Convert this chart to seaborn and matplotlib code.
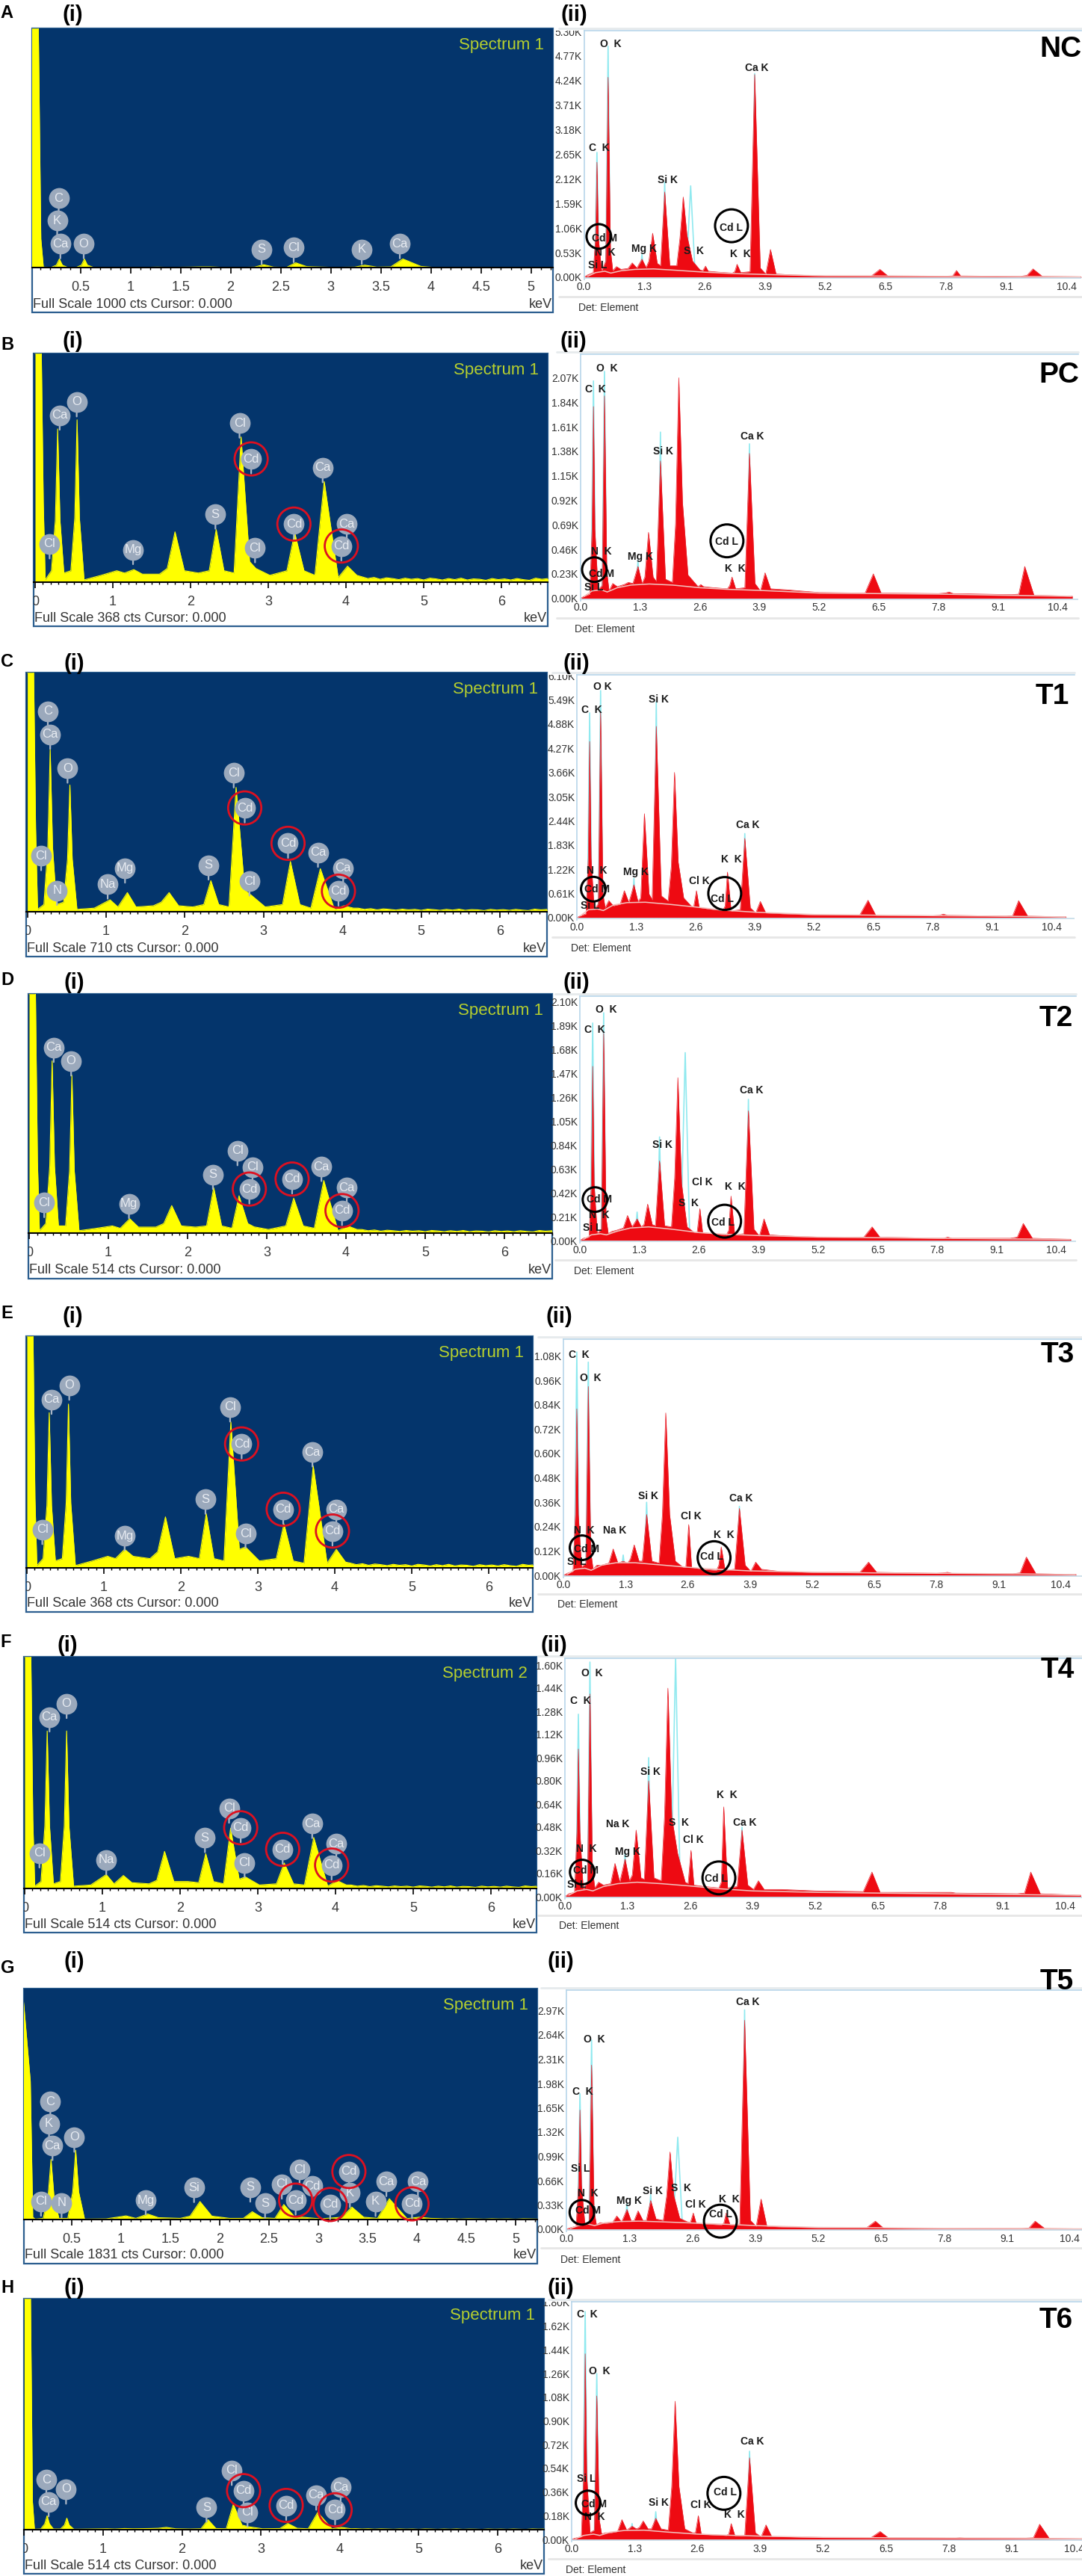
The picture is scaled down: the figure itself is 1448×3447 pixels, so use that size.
import numpy as np
import pandas as pd
import seaborn as sns
import matplotlib.pyplot as plt
from matplotlib.lines import Line2D
from matplotlib.patches import Rectangle
from matplotlib.ticker import MultipleLocator
from matplotlib.transforms import Bbox

sns.set_theme(style="white")
plt.rcParams['font.family'] = ['Liberation Sans', 'DejaVu Sans']
NARROW = ['Liberation Sans Narrow', 'Liberation Sans', 'DejaVu Sans']

W, H = 1448, 3447

# ---------------- left spectra: counts as % of full scale
LEFT_KEV = [0, .08, .105, .13, .21, .26, .29, .32, .37, .46, .51, .54, .57, .63, .85, 1.05, 1.15, 1.27, 1.38, 1.60,
            1.70, 1.80, 1.92, 2.10, 2.24, 2.33, 2.43, 2.56, 2.65, 2.76, 2.84, 3.02, 3.24, 3.34, 3.46, 3.60, 3.72,
            3.90, 4.02, 4.14]
L_A = [100, 100, 12, .2, .1, 1, 3.6, 1, .1, .1, 1, 3.6, 1, .1, .1, .1, .1, .2, .1, .2, .3, .3, .1, .1, .2, 1.2, .2,
       .1, 2, .4, .3, .1, .2, 1, .2, .3, 3.6, .5, .1, .1]
L_B = [100, 100, 35, 1, 5, 27, 67, 27, 4, 5, 28, 71, 28, 1, 3, 5, 4, 5.5, 3.5, 3.5, 6, 22, 5, 4, 5, 23, 5, 4, 63.5,
       9, 6, 3, 5, 21.6, 5, 3, 44, 2, 7, 3]
L_C = [100, 100, 35, 1, 3, 27, 68, 27, 3, 4, 22, 53, 22, 1, 1.5, 5, 2, 8, 2, 2.5, 4, 8, 2.5, 2, 3, 13, 3, 2, 52, 9,
       7, 2, 3, 21, 3, 1.5, 18, 1, 2.5, 1.5]
L_D = [100, 100, 30, 1, 4, 28, 72, 28, 3, 3, 26, 66, 26, 1, 2, 3, 2, 6, 2.5, 2.5, 4, 11.5, 3, 2.5, 3, 19, 3, 2, 15.6,
       4, 2.6, 1.5, 3, 14.6, 3, 2, 22, 1, 3, 1.5]
L_E = [100, 100, 30, 1, 4, 27, 67, 27, 3, 4, 28, 70.7, 28, 1, 3, 5, 4, 8, 5, 4, 7, 22, 4, 5, 4, 23.4, 4, 3, 63, 8, 9,
       3, 4, 19, 3, 2, 44, 2, 8, 2.5]
L_F = [100, 100, 30, 1, 3, 27, 68, 27, 2, 3, 27, 68, 27, 1, 1.5, 6, 2, 5.6, 2.5, 2, 3.5, 16, 3, 3, 2.5, 15, 3, 2, 26,
       4, 5, 1.5, 2, 11, 2, 1.5, 22, 1, 3.4, 1.5]
L_G = [100, 60, 1, .2, .5, 10, 26, 10, .5, .5, 12, 30, 12, .2, .3, 1.6, .5, 2.4, .8, .5, 1.5, 7.8, 1.5, .5, .5, 3.4,
       .8, .5, 6.5, 1.2, 1, .3, 1, 5.4, 1, .5, 9, .4, 1, .5]
L_H = [100, 100, 12, .2, .3, 2.5, 6, 2.5, .3, .3, 2, 5, 2, .2, .3, .4, .3, .5, .4, .5, .6, 1, .4, .3, .4, 4.3, .5,
       .4, 11, 2, 1.3, .4, .5, 2.7, .6, .4, 7.5, .4, 1, .4]
# tail after 4.14 keV, same jagged shape in each panel, scaled by its level
TAIL_KEV = [4.2, 4.28, 4.36, 4.44, 4.52, 4.6, 4.68, 4.76, 4.84, 4.92, 5.0, 5.08, 5.16, 5.24, 5.32, 5.4, 5.48, 5.56,
            5.64, 5.72, 5.8, 5.88, 5.96, 6.04, 6.12, 6.2, 6.28, 6.36, 6.44, 6.52, 6.6]
TAIL_SHAPE = [1.5, 1, 1.3, .8, 1.2, 1, .7, 1.1, .8, 1, .6, 1.1, .9, .6, 1, .7, 1.1, .6, .9, .8, .5, 1, .7, .9, .6,
              1, .7, .5, 1.1, .8, 1]
L_TAIL = [0, 1.6, 1, 1, 1.4, 1, .3, .3]

# ---------------- right spectra, in kilo counts
R_KEV = [0, .08, .20, .25, .28, .31, .38, .47, .52, .57, .62, .70, .80, .95, 1.04, 1.14, 1.25, 1.34, 1.40, 1.48, 1.58,
         1.65, 1.74, 1.85, 2.00, 2.07, 2.14, 2.22, 2.34, 2.50, 2.56, 2.62, 2.68, 2.90, 3.20, 3.25, 3.30, 3.38, 3.58,
         3.68, 3.80, 3.92, 4.02, 4.14, 4.50, 5.20, 6.20, 6.38, 6.55, 7.80, 7.95, 8.03, 8.12, 9.40, 9.55, 9.68, 9.88,
         10.72]
R_A = [0, .05, .10, .85, 2.48, .85, .13, .35, 4.31, .6, .14, .23, .17, .19, .31, .2, .39, .21, .35, .95, .3, .25, 1.84,
       .25, .25, .85, 1.73, .9, .35, .16, .14, .24, .13, .11, .09, .12, .28, .1, .12, 4.37, .2, .07, .60, .07, .05,
       .03, .03, .17, .03, .025, .03, .145, .03, .02, .04, .18, .02, .01]
R_B = [0, .02, .04, .65, 1.80, .65, .08, .12, 1.90, .25, .07, .14, .11, .13, .15, .14, .30, .14, .2, .62, .2, .16, 1.29,
       .18, .15, .7, 2.07, .9, .22, .14, .11, .13, .11, .10, .09, .12, .20, .09, .10, 1.36, .14, .07, .24, .09, .08,
       .055, .05, .23, .05, .045, .05, .06, .045, .035, .04, .30, .03, .02]
R_C = [0, .05, .1, 1.5, 4.44, 1.5, .2, .35, 5.19, .6, .25, .43, .3, .34, .68, .38, .83, .4, .5, 2.62, .6, .45, 4.82,
       .55, .42, 1.3, 3.66, 1.4, .5, .3, .27, .68, .26, .22, .18, .3, 1.15, .17, .2, 2.0, .25, .12, .41, .12, .1, .07,
       .07, .44, .06, .05, .06, .09, .06, .04, .05, .43, .04, .02]
R_D = [0, .02, .03, .5, 1.53, .5, .06, .1, 1.82, .2, .06, .08, .09, .11, .22, .12, .19, .12, .14, .32, .14, .13, .70,
       .13, .12, .55, 1.43, .5, .12, .07, .07, .28, .07, .06, .05, .09, .39, .05, .06, 1.14, .1, .04, .19, .05, .04,
       .03, .03, .12, .03, .02, .02, .03, .02, .02, .03, .15, .02, .01]
R_E = [0, .01, .02, .3, .82, .3, .04, .06, .93, .12, .03, .05, .05, .06, .13, .06, .07, .06, .08, .15, .07, .07, .30,
       .07, .06, .3, .80, .3, .07, .04, .04, .25, .04, .03, .025, .05, .14, .025, .03, .33, .05, .02, .065, .03, .02,
       .015, .015, .065, .015, .01, .012, .015, .01, .008, .012, .09, .008, .004]
R_F = [0, .02, .03, .45, 1.02, .45, .05, .1, 1.40, .2, .06, .1, .08, .09, .23, .1, .26, .11, .15, .46, .13, .12, .80,
       .13, .11, .55, 1.44, .55, .3, .1, .09, .32, .08, .07, .06, .1, .62, .06, .07, .46, .08, .05, .11, .05, .05, .04,
       .035, .17, .03, .03, .03, .03, .025, .02, .025, .17, .02, .01]
R_G = [0, .02, .04, .6, 1.62, .6, .08, .1, 2.23, .25, .06, .09, .08, .09, .18, .1, .27, .11, .12, .25, .12, .12, .39,
       .14, .12, .45, 1.05, .45, .15, .1, .09, .22, .08, .07, .06, .08, .22, .06, .07, 2.84, .12, .04, .41, .04, .03,
       .02, .02, .11, .015, .01, .01, .01, .01, .01, .015, .11, .01, .005]
R_H = [0, .01, .02, .5, 1.41, .5, .05, .07, 1.09, .15, .04, .05, .05, .06, .15, .07, .10, .08, .09, .14, .08, .08, .16,
       .08, .07, .4, 1.05, .4, .08, .05, .05, .18, .04, .035, .03, .04, .12, .025, .03, .62, .05, .02, .11, .02, .02,
       .015, .015, .06, .012, .01, .01, .012, .01, .01, .012, .115, .008, .004]

# cyan fit line tops: C, O, Mg, Si, S, Ca
CYAN_KEV = [.28, .52, 1.25, 1.74, 2.30, 3.68]
CYAN_A = [2.69, 4.98, .49, 2.05, 1.97, 4.39]
CYAN_B = [2.04, 2.13, .355, 1.56, .2, 1.45]
CYAN_C = [5.16, 5.72, .99, 5.44, .5, 2.12]
CYAN_D = [1.91, 2.0, .25, .91, 1.65, 1.24]
CYAN_E = [1.10, 1.05, .1, .36, .1, .34]
CYAN_F = [1.26, 1.62, .3, .96, 1.65, .48]
CYAN_G = [1.84, 2.57, .34, .47, 1.25, 2.98]
CYAN_H = [1.73, 1.26, .12, .21, .09, .67]

# background curve
BG_KEV = [.08, .25, .45, .58, .8, 1.1, 1.5, 2.0, 2.6, 3.2, 3.9, 5.2, 6.5, 7.8, 9.1, 10.7]
BG_A = [.02, .10, .13, .09, .14, .17, .18, .15, .11, .08, .06, .03, .025, .02, .02, .01]
BG_B = [.02, .07, .08, .06, .10, .125, .135, .125, .10, .085, .075, .05, .045, .04, .03, .02]
BG_C = [.05, .2, .22, .18, .32, .38, .39, .34, .27, .19, .14, .08, .065, .05, .04, .02]
BG_D = [.01, .05, .06, .05, .08, .11, .12, .1, .07, .055, .044, .03, .025, .02, .015, .01]
BG_E = [.005, .03, .035, .025, .05, .062, .062, .052, .04, .03, .022, .016, .012, .01, .008, .004]
BG_F = [.01, .04, .05, .04, .07, .09, .10, .09, .074, .055, .04, .03, .025, .02, .015, .01]
BG_G = [.01, .05, .07, .05, .09, .105, .11, .10, .085, .07, .05, .025, .02, .012, .01, .005]
BG_H = [.005, .03, .04, .03, .055, .068, .07, .055, .04, .032, .025, .015, .012, .01, .008, .004]

# ---------------- element badges on the left spectra (keV, % height, name, red ring)
BADGE_A = [(.283, 29, 'C', 0), (.268, 19.6, 'K', 0), (.30, 9.9, 'Ca', 0), (.533, 9.9, 'O', 0), (2.31, 7.5, 'S', 0),
           (2.63, 8.3, 'Cl', 0), (3.31, 7.5, 'K', 0), (3.69, 9.9, 'Ca', 0)]
BADGE_B = [(.186, 16.7, 'Cl', 0), (.316, 73, 'Ca', 0), (.535, 78.8, 'O', 0), (1.26, 14.2, 'Mg', 0), (2.32, 29.7, 'S', 0),
           (2.63, 69.5, 'Cl', 0), (2.78, 53.9, 'Cd', 1), (2.83, 15, 'Cl', 0), (3.33, 25.4, 'Cd', 1), (3.70, 50, 'Ca', 0),
           (4.01, 25.4, 'Ca', 0), (3.94, 15.8, 'Cd', 1)]
BADGE_C = [(.26, 83.9, 'C', 0), (.29, 74.2, 'Ca', 0), (.51, 60, 'O', 0), (.175, 23.4, 'Cl', 0), (.376, 8.9, 'N', 0),
           (1.02, 11.5, 'Na', 0), (1.24, 18.2, 'Mg', 0), (2.30, 19.5, 'S', 0), (2.62, 58, 'Cl', 0), (2.76, 43.4, 'Cd', 1),
           (2.82, 12.8, 'Cl', 0), (3.31, 28.6, 'Cd', 1), (3.69, 24.8, 'Ca', 0), (4.01, 18.2, 'Ca', 0), (3.95, 8.6, 'Cd', 1)]
BADGE_D = [(.31, 77.6, 'Ca', 0), (.53, 71.9, 'O', 0), (.19, 12.7, 'Cl', 0), (1.26, 12.3, 'Mg', 0), (2.32, 24.5, 'S', 0),
           (2.63, 34.4, 'Cl', 0), (2.82, 27.6, 'Cl', 0), (2.78, 18.4, 'Cd', 1), (3.32, 22.6, 'Cd', 1), (3.69, 27.8, 'Ca', 0),
           (4.01, 19, 'Ca', 0), (3.95, 9.4, 'Cd', 1)]
BADGE_E = [(.32, 72.7, 'Ca', 0), (.55, 78.8, 'O', 0), (.2, 16.5, 'Cl', 0), (1.27, 13.8, 'Mg', 0), (2.32, 29.6, 'S', 0),
           (2.64, 69.4, 'Cl', 0), (2.79, 53.5, 'Cd', 1), (2.84, 14.8, 'Cl', 0), (3.33, 25.3, 'Cd', 1), (3.71, 50, 'Ca', 0),
           (4.02, 25.3, 'Ca', 0), (3.97, 15.9, 'Cd', 1)]
BADGE_F = [(.32, 74, 'Ca', 0), (.54, 79.8, 'O', 0), (.19, 15.3, 'Cl', 0), (1.05, 12.3, 'Na', 0), (2.32, 21.9, 'S', 0),
           (2.63, 34.6, 'Cl', 0), (2.78, 26.2, 'Cd', 1), (2.83, 11, 'Cl', 0), (3.32, 16.9, 'Cd', 1), (3.70, 28, 'Ca', 0),
           (4.01, 19.2, 'Ca', 0), (3.95, 10.1, 'Cd', 1)]
BADGE_G = [(.283, 51, 'C', 0), (.27, 41.5, 'K', 0), (.305, 32, 'Ca', 0), (.526, 35.6, 'O', 0), (.188, 7.9, 'Cl', 0),
           (.397, 7.2, 'N', 0), (1.25, 8.4, 'Mg', 0), (1.74, 13.8, 'Si', 0), (2.31, 14, 'S', 0), (2.46, 7, 'S', 0),
           (2.63, 15.3, 'Cl', 0), (2.81, 21.6, 'Cl', 0), (2.94, 14.5, 'Cd', 0), (2.77, 8.4, 'Cd', 1), (3.12, 6.5, 'Cd', 1),
           (3.32, 11.6, 'K', 0), (3.31, 20.8, 'Cd', 1), (3.58, 7.8, 'K', 0), (3.69, 16.4, 'Ca', 0), (4.01, 16.4, 'Ca', 0),
           (3.95, 6.8, 'Cd', 1)]
BADGE_H = [(.28, 21.6, 'C', 0), (.53, 17.5, 'O', 0), (.31, 12, 'Ca', 0), (2.31, 9.7, 'S', 0), (2.63, 25.6, 'Cl', 0),
           (2.83, 7.6, 'Cl', 0), (2.78, 16.9, 'Cd', 1), (3.32, 10.5, 'Cd', 1), (3.70, 14.9, 'Ca', 0), (4.01, 18.3, 'Ca', 0),
           (3.94, 8.6, 'Cd', 1)]

# ---------------- peak labels on the right spectra (keV, K, text)
NOTE_A = [(.57, 5.03, 'O  K'), (3.73, 4.51, 'Ca K'), (.33, 2.78, 'C  K'), (1.80, 2.10, 'Si K'), (.44, .83, 'Cd M'),
          (.46, .53, 'N  K'), (1.29, .61, 'Mg K'), (2.36, .56, 'S  K'), (3.37, .50, 'K  K'), (.30, .25, 'Si L'),
          (3.18, 1.07, 'Cd L')]
NOTE_B = [(.57, 2.16, 'O  K'), (.33, 1.96, 'C  K'), (1.80, 1.38, 'Si K'), (3.74, 1.52, 'Ca K'), (.45, .44, 'N  K'),
          (1.31, .39, 'Mg K'), (3.19, .53, 'Cd L'), (3.37, .28, 'K  K'), (.46, .23, 'Cd M'), (.29, .105, 'Si L')]
NOTE_C = [(.57, 5.81, 'O K'), (.33, 5.24, 'C  K'), (1.80, 5.49, 'Si K'), (3.75, 2.33, 'Ca K'), (3.39, 1.47, 'K  K'),
          (.44, 1.18, 'N  K'), (1.29, 1.15, 'Mg K'), (2.68, .92, 'Cl K'), (.44, .71, 'Cd M'), (3.19, .48, 'Cd L'),
          (.29, .30, 'Si L')]
NOTE_D = [(.57, 2.03, 'O  K'), (.33, 1.85, 'C  K'), (1.81, .84, 'Si K'), (3.75, 1.32, 'Ca K'), (2.68, .51, 'Cl K'),
          (3.39, .47, 'K  K'), (.42, .36, 'Cd M'), (2.38, .33, 'S  K'), (.42, .225, 'N  K'), (3.13, .16, 'Cd L'),
          (.27, .11, 'Si L')]
NOTE_E = [(.32, 1.085, 'C  K'), (.56, .97, 'O  K'), (1.77, .39, 'Si K'), (3.72, .38, 'Ca K'), (2.67, .29, 'Cl K'),
          (1.08, .22, 'Na K'), (.43, .22, 'N  K'), (3.36, .197, 'K  K'), (.48, .13, 'Cd M'), (3.10, .093, 'Cd L'),
          (.27, .065, 'Si L')]
NOTE_F = [(.56, 1.545, 'O  K'), (.33, 1.35, 'C  K'), (1.78, .86, 'Si K'), (3.37, .70, 'K  K'), (1.09, .50, 'Na K'),
          (2.37, .51, 'S  K'), (3.74, .51, 'Ca K'), (2.67, .39, 'Cl K'), (.44, .33, 'N  K'), (1.31, .31, 'Mg K'),
          (.44, .18, 'Cd M'), (3.14, .126, 'Cd L'), (.24, .08, 'Si L')]
NOTE_G = [(3.74, 3.09, 'Ca K'), (.57, 2.58, 'O  K'), (.33, 1.87, 'C  K'), (.29, .82, 'Si L'), (.44, .49, 'N  K'),
          (1.79, .52, 'Si K'), (2.37, .56, 'S  K'), (1.30, .39, 'Mg K'), (3.36, .41, 'K  K'), (2.67, .34, 'Cl K'),
          (.44, .25, 'Cd M'), (3.18, .20, 'Cd L')]
NOTE_H = [(.33, 1.71, 'C  K'), (.58, 1.275, 'O  K'), (3.74, .745, 'Ca K'), (.30, .46, 'Si L'), (1.80, .277, 'Si K'),
          (2.67, .26, 'Cl K'), (.47, .265, 'Cd M'), (.47, .17, 'N  K'), (3.37, .19, 'K  K'), (3.18, .36, 'Cd L')]

# black rings on the right spectra: (keV, K) for the large and the small one
RING_BIG = [(3.18, 1.11), (3.19, .54), (3.24, .61), (3.16, .17), (3.15, .087), (3.20, .13), (3.18, .11), (3.15, .35)]
RING_SMALL = [(.32, .88), (.30, .27), (.36, .72), (.33, .36), (.39, .136), (.36, .17), (.32, .23), (.34, .277)]

ROW_LETTERS = ['A', 'B', 'C', 'D', 'E', 'F', 'G', 'H']
ROW_TAGS = ['NC', 'PC', 'T1', 'T2', 'T3', 'T4', 'T5', 'T6']
FULL_SCALE = [1000, 368, 710, 514, 368, 514, 1831, 514]
SPECTRUM_NO = [1, 1, 1, 1, 1, 2, 1, 1]
Y_STEP = [.53, .23, .61, .21, .12, .16, .33, .18]
Y_LAST = [5.30, 2.07, 6.10, 2.10, 1.08, 1.60, 2.97, 1.80]
L_TICK_STEP = [.5, 1, 1, 1, 1, 1, .5, 1]

left_series = [L_A, L_B, L_C, L_D, L_E, L_F, L_G, L_H]
left_badges = [BADGE_A, BADGE_B, BADGE_C, BADGE_D, BADGE_E, BADGE_F, BADGE_G, BADGE_H]
right_series = [R_A, R_B, R_C, R_D, R_E, R_F, R_G, R_H]
right_cyan = [CYAN_A, CYAN_B, CYAN_C, CYAN_D, CYAN_E, CYAN_F, CYAN_G, CYAN_H]
right_bg = [BG_A, BG_B, BG_C, BG_D, BG_E, BG_F, BG_G, BG_H]
right_notes = [NOTE_A, NOTE_B, NOTE_C, NOTE_D, NOTE_E, NOTE_F, NOTE_G, NOTE_H]

# layout in pixels: x0, x1, top, bottom of the frame, axis line, px of 0 keV, px per keV
LEFT_BOX = [(43, 740, 38, 418, 358, 40.6, 134), (45, 733, 473, 838, 779, 47, 104),
            (35, 732, 900, 1280, 1220, 36.6, 105.4), (38, 739, 1330, 1711, 1650, 39, 106),
            (35, 713, 1788, 2157, 2098, 36, 103), (32, 718, 2217, 2586, 2527, 33, 104),
            (32, 719, 2661, 3029, 2970, 30, 132), (32, 728, 3076, 3444, 3385, 32.4, 105.6)]
# outer left, outer right, px of 0 keV, px per keV, top, axis line, outer bottom, px per y step, det y, det x
RIGHT_BOX = [(748, 1447, 781.5, 62.08, 40.7, 371, 397, 32.9, 412, 774), (745, 1443, 777, 61.4, 474, 800.7, 827, 32.8, 842, 769),
             (739, 1438, 772, 61.07, 903, 1228, 1254, 32.4, 1269, 764), (743, 1440, 776, 61.3, 1333, 1660, 1686, 32, 1701, 768),
             (720, 1448, 754, 64, 1792, 2108, 2133, 32.6, 2147, 746), (720, 1448, 756, 64.4, 2219, 2538, 2563, 31, 2577, 748),
             (724, 1448, 758, 64.8, 2663, 2983, 3008, 32.5, 3024, 750), (734, 1448, 765, 64.7, 3080, 3398, 3424, 31.7, 3439, 757)]
# y of letter, (i)/(ii) labels and tag, x of letter, (i), (ii), right edge of tag
HEAD_Y = [(17, 20, 66), (462, 457, 502), (885, 888, 932), (1312, 1315, 1363), (1757, 1762, 1813), (2198, 2202, 2235),
          (2633, 2625, 2652), (3062, 3062, 3105)]
HEAD_X = [(0, 97, 768, 1447), (1, 97, 767, 1444), (1, 99, 771, 1431), (1, 99, 771, 1436), (1, 97, 748, 1438),
          (0, 90, 741, 1438), (1, 99, 750, 1437), (1, 99, 750, 1436)]

fig = plt.figure(figsize=(W / 100, H / 100), dpi=100, facecolor='white')


def px_axes(x0, x1, top, bottom):
    return fig.add_axes([x0 / W, 1 - bottom / H, (x1 - x0) / W, (bottom - top) / H])


def fig_text(x, y, s, **kw):
    fig.text(x / W, 1 - y / H, s, **kw)


def fig_line(x0, x1, y0, y1, **kw):
    fig.add_artist(Line2D([x0 / W, x1 / W], [1 - y0 / H, 1 - y1 / H], zorder=-1, **kw))


def clip_labels(labels, x0, x1, top):
    # partly cut tick labels at the panel edge, as in the screenshot
    box = Bbox([[x0, 0], [x1, H - top]])
    for lab in labels:
        lab.set_clip_box(box)
        lab.set_clip_on(True)


for i in range(8):
    # left spectrum
    x0, x1, top, bottom, base, zero, scale = LEFT_BOX[i]
    fig.add_artist(Rectangle((x0 / W, 1 - bottom / H), (x1 - x0) / W, (bottom - top) / H, transform=fig.transFigure,
                             fc='white', ec='#2d5f90', lw=1.6, zorder=-1))
    ax = px_axes(x0, x1, top, base)
    ax.set_facecolor('#04356c')
    kev = np.array(LEFT_KEV + TAIL_KEV)
    pct = np.array(left_series[i] + [v * L_TAIL[i] for v in TAIL_SHAPE])
    frame = pd.DataFrame({'kev': kev, 'pct': pct})
    sns.lineplot(data=frame, x='kev', y='pct', color='#ffff00', lw=0.8, estimator=None, sort=False, ax=ax)
    ax.fill_between(kev, 0, pct, color='#ffff00', lw=0)
    ax.set_xlim((x0 - zero) / scale, (x1 - zero) / scale)
    ax.set_ylim(0, 100)
    ax.set_xlabel('')
    ax.set_ylabel('')
    ax.set_yticks([])
    ax.xaxis.set_major_locator(MultipleLocator(L_TICK_STEP[i]))
    ax.xaxis.set_minor_locator(MultipleLocator(.1))
    ax.tick_params(axis='x', which='major', bottom=True, length=6, width=1.2, color='black', pad=7,
                   labelsize=13, labelcolor='#3a3a3a')
    ax.tick_params(axis='x', which='minor', bottom=True, length=2.5, width=1, color='black')
    if L_TICK_STEP[i] == .5:
        ax.set_xticks(np.arange(.5, 5.5, .5))
        ax.set_xticklabels(['0.5', '1', '1.5', '2', '2.5', '3', '3.5', '4', '4.5', '5'])
    else:
        ax.set_xticks(range(0, 7))
        ax.set_xticklabels(['0', '1', '2', '3', '4', '5', '6'])
    clip_labels(ax.get_xticklabels(), x0, x1, top)
    for side in ['top', 'left', 'right']:
        ax.spines[side].set_visible(False)
    ax.spines['bottom'].set_color('black')
    ax.spines['bottom'].set_linewidth(1.5)

    # element badges with a short stem, red ring for cadmium
    for bk, bp, name, ringed in left_badges[i]:
        ax.annotate('', xy=(bk, bp), xytext=(0, -14), textcoords='offset points', annotation_clip=False,
                    arrowprops=dict(arrowstyle='-', color='#aab6c6', lw=1.6, shrinkA=0, shrinkB=0), zorder=4)
        ax.scatter([bk], [bp], s=400, color='#9ba9bc', lw=0, zorder=5, clip_on=False)
        ax.text(bk, bp, name, color='#e8ecf2', fontsize=12, ha='center', va='center', zorder=6)
        if ringed:
            ax.scatter([bk], [bp], s=1020, facecolor='none', edgecolor='#dd1020', lw=2, zorder=7, clip_on=False)
    fig_text(x1 - 12, top + 12, f'Spectrum {SPECTRUM_NO[i]}', family=NARROW, fontsize=16, color='#b7d02e', ha='right',
             va='top')
    fig_text(x0 + 1, bottom - 11, f'Full Scale {FULL_SCALE[i]} cts Cursor: 0.000', fontsize=13, color='#333333',
             ha='left', va='center')
    fig_text(x1 - 1, bottom - 11, 'keV', fontsize=13, color='#333333', ha='right', va='center')

    # right spectrum
    ox0, ox1, rzero, rscale, rtop, rbase, obot, step_px, det_y, det_x = RIGHT_BOX[i]
    fig_line(ox0, ox1, rtop - 3, rtop - 3, color='#e6eaed', lw=2)
    fig_line(ox0, ox1, obot, obot, color='#e6e6e6', lw=2)
    bx = px_axes(rzero, ox1, rtop, rbase + 3)
    bx.set_facecolor('white')
    for ck, cy in zip(CYAN_KEV, right_cyan[i]):
        half = .1 if ck == 2.30 else .05
        sns.lineplot(x=[ck - half, ck, ck + half], y=[0, cy, 0], color='#8fe9ef', lw=1.2, estimator=None, sort=False,
                     ax=bx, zorder=1)
    frame = pd.DataFrame({'kev': R_KEV, 'counts': right_series[i]})
    bx.fill_between(frame.kev, 0, frame.counts, color='#ee0a12', lw=0, zorder=2)
    sns.lineplot(data=frame, x='kev', y='counts', color='#e8202a', lw=0.5, estimator=None, sort=False, ax=bx, zorder=2)
    sns.lineplot(x=BG_KEV, y=right_bg[i], color='#f2c4c0', lw=1.1, estimator=None, sort=False, ax=bx, zorder=3)

    per_px = Y_STEP[i] / step_px
    bx.set_xlim(0, (ox1 - rzero) / rscale)
    bx.set_ylim(-3 * per_px, (rbase - rtop) * per_px)
    bx.set_xlabel('')
    bx.set_ylabel('')
    bx.set_xticks(np.arange(0, 10.5, 1.3))
    bx.set_xticklabels(['0.0', '1.3', '2.6', '3.9', '5.2', '6.5', '7.8', '9.1', '10.4'])
    yt = np.arange(0, Y_LAST[i] + .001, Y_STEP[i])
    bx.set_yticks(yt)
    bx.set_yticklabels([f'{v:.2f}K' for v in yt])
    bx.tick_params(axis='both', length=0, pad=2, labelcolor='#333333')
    for lab in bx.get_xticklabels() + bx.get_yticklabels():
        lab.set_family(NARROW)
        lab.set_fontsize(10)
    clip_labels(bx.get_yticklabels(), 0, W, rtop)
    for side in ['right', 'bottom']:
        bx.spines[side].set_visible(False)
    for side in ['top', 'left']:
        bx.spines[side].set_color('#b7d6ea')
        bx.spines[side].set_linewidth(1.2)
    bx.axhline(-1 * per_px, color='#c5dbe8', lw=1.2, zorder=4)

    for nk, nc, note in right_notes[i]:
        bx.text(nk, nc, note, family=NARROW, fontsize=10, weight='bold', color='#1a1a1a', ha='center', va='center',
                zorder=6, clip_on=False)
    bx.scatter(*RING_BIG[i], s=1000, facecolor='none', edgecolor='black', lw=2.2, zorder=7, clip_on=False)
    bx.scatter(*RING_SMALL[i], s=560, facecolor='none', edgecolor='black', lw=2.2, zorder=7, clip_on=False)
    fig_text(det_x, det_y, 'Det: Element', family=NARROW, fontsize=10, color='#333333', ha='left', va='center')

    # headings
    ly, iy, ty = HEAD_Y[i]
    lx, ix, iix, tx = HEAD_X[i]
    fig_text(lx, ly, ROW_LETTERS[i], fontsize=17, weight='bold', color='black', ha='left', va='center')
    fig_text(ix, iy, '(i)', fontsize=21, weight='bold', color='black', ha='center', va='center', zorder=20)
    fig_text(iix, iy, '(ii)', fontsize=21, weight='bold', color='black', ha='center', va='center', zorder=20)
    fig_text(tx, ty, ROW_TAGS[i], fontsize=28, weight='bold', color='black', ha='right', va='center', zorder=20)

fig.savefig('out.png', dpi=100)
